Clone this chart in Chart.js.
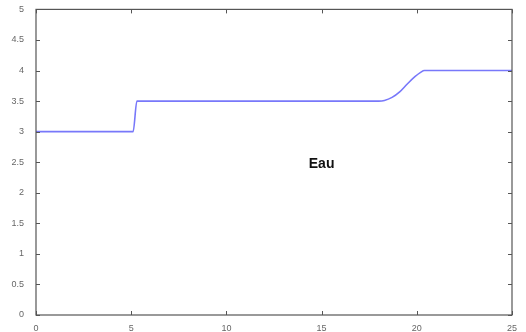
<!DOCTYPE html>
<html>
<head>
<meta charset="utf-8">
<script src="https://cdn.jsdelivr.net/npm/chart.js@4"></script>
<style>
  html, body { margin: 0; padding: 0; background: #fff; }
  #wrap { width: 526px; height: 332px; position: relative; }
</style>
</head>
<body>
<div id="wrap"><canvas id="c" width="526" height="332"></canvas></div>
<script>
// Time axis samples and the water level trace
const timeValues  = [0, 5.1, 5.3, 18.0, 18.3, 18.7, 19.1, 19.5, 19.9, 20.2, 20.4, 25];
const levelValues = [3, 3.0, 3.5, 3.5,  3.51, 3.56, 3.65, 3.78, 3.9,  3.97, 4.0,  4];
const xTicks = [0, 5, 10, 15, 20, 25];
const yTicks = [0, 0.5, 1, 1.5, 2, 2.5, 3, 3.5, 4, 4.5, 5];
const seriesLabel = 'Eau';

const points = timeValues.map((t, i) => ({ x: t, y: levelValues[i] }));

// Boxed frame with inward tick marks on all four sides, plus the in-plot label
const frame = {
  id: 'frame',
  afterDraw(chart) {
    const { ctx, chartArea: a, scales: { x, y } } = chart;
    ctx.save();
    ctx.strokeStyle = '#555';
    ctx.lineWidth = 1.2;
    ctx.strokeRect(a.left, a.top, a.right - a.left, a.bottom - a.top);
    ctx.lineWidth = 1;
    const L = 4;
    xTicks.forEach(v => {
      const px = Math.round(x.getPixelForValue(v)) + 0.5;
      ctx.beginPath();
      ctx.moveTo(px, a.bottom); ctx.lineTo(px, a.bottom - L);
      ctx.moveTo(px, a.top); ctx.lineTo(px, a.top + L);
      ctx.stroke();
    });
    yTicks.forEach(v => {
      const py = Math.round(y.getPixelForValue(v)) + 0.5;
      ctx.beginPath();
      ctx.moveTo(a.left, py); ctx.lineTo(a.left + L, py);
      ctx.moveTo(a.right, py); ctx.lineTo(a.right - L, py);
      ctx.stroke();
    });
    ctx.fillStyle = '#111';
    ctx.font = 'bold 14px "Liberation Sans", Arial, sans-serif';
    ctx.textAlign = 'center';
    ctx.textBaseline = 'middle';
    ctx.fillText(seriesLabel, x.getPixelForValue(15), y.getPixelForValue(2.47));
    ctx.restore();
  }
};

const fmt = v => String(Number(v));

new Chart(document.getElementById('c'), {
  type: 'line',
  data: {
    datasets: [{
      label: seriesLabel,
      data: points,
      borderColor: '#7878fa',
      borderWidth: 1.6,
      pointRadius: 0,
      cubicInterpolationMode: 'monotone',
      fill: false
    }]
  },
  options: {
    responsive: false,
    animation: false,
    layout: { padding: { top: 5, right: 14, left: 0, bottom: 0 } },
    plugins: { legend: { display: false }, tooltip: { enabled: false } },
    scales: {
      x: {
        type: 'linear',
        min: 0, max: 25,
        afterBuildTicks: s => { s.ticks = xTicks.map(v => ({ value: v })); },
        afterFit: s => { s.height = 17; },
        grid: { display: false },
        border: { display: false },
        ticks: {
          color: '#666',
          font: { family: '"Liberation Sans", Arial, sans-serif', size: 9 },
          padding: 0,
          maxRotation: 0,
          autoSkip: false,
          callback: fmt
        }
      },
      y: {
        min: 0, max: 5,
        afterBuildTicks: s => { s.ticks = yTicks.map(v => ({ value: v })); },
        afterFit: s => { s.width = 36; },
        grid: { display: false },
        border: { display: false },
        ticks: {
          color: '#666',
          font: { family: '"Liberation Sans", Arial, sans-serif', size: 9 },
          padding: 4,
          autoSkip: false,
          callback: fmt
        }
      }
    }
  },
  plugins: [frame]
});
</script>
</body>
</html>
